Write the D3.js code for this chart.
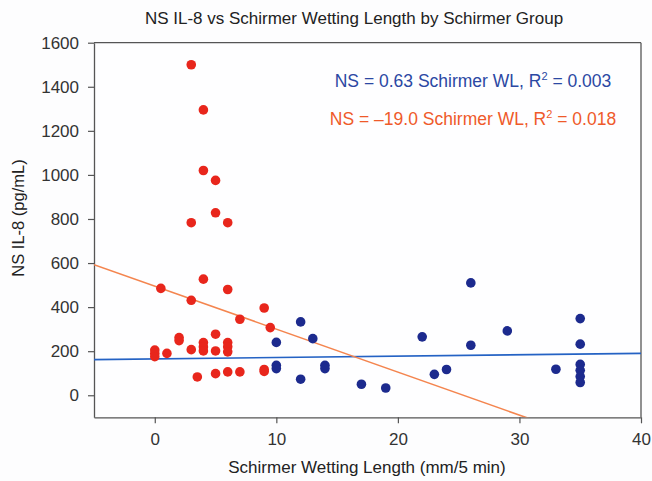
<!DOCTYPE html>
<html>
<head>
<meta charset="utf-8">
<script src="https://cdn.jsdelivr.net/npm/d3@7"></script>
<style>
  html, body { margin: 0; padding: 0; background: #fdfdfe; }
  svg { display: block; }
  text { font-family: "Liberation Sans", Arial, Helvetica, sans-serif; }
</style>
</head>
<body>
<svg id="chart" width="652" height="481"></svg>
<script>
// ---- data ----
const redX = [3, 4, 4, 5, 5, 3, 6, 4, 0.5, 6, 3, 9, 7, 9.5, 5, 2, 2, 0, 0, 0, 1, 3, 4, 4, 4, 5, 6, 6, 6, 3.5, 5, 6, 7, 9, 9];
const redY = [1500, 1295, 1020, 975, 828, 783, 783, 527, 485, 480, 431, 396, 345, 307, 277, 262, 248, 205, 190, 175, 190, 207, 239, 219, 201, 201, 239, 220, 197, 83, 98, 106, 106, 117, 108];
const blueX = [12, 10, 10, 10, 12, 13, 14, 14, 17, 19, 22, 23, 24, 26, 26, 29, 33, 35, 35, 35, 35, 35, 35];
const blueY = [333, 240, 136, 121, 73, 257, 136, 121, 50, 33, 265, 95, 117, 510, 227, 292, 118, 348, 232, 140, 113, 85, 58];
const fitGroups = ["blue", "red"];
const fitSlopes = [0.63, -19.5];
const fitIntercepts = [165, 495];
const fitLabels = ["NS = 0.63 Schirmer WL, R", "NS = \u201319.0 Schirmer WL, R"];
const fitR2 = ["0.003", "0.018"];
const xTicks = [0, 10, 20, 30, 40];
const yTicks = [0, 200, 400, 600, 800, 1000, 1200, 1400, 1600];
const xDomain = [-5, 40];
const yDomain = [-100, 1600];

// ---- layout ----
const svg = d3.select("#chart");
const L = 94, R = 641, T = 42.7, B = 417.3;
const x = d3.scaleLinear().domain(xDomain).range([L, R]);
const y = d3.scaleLinear().domain(yDomain).range([B, T]);
const colors = { red: "#e8261c", blue: "#1c2a8e" };
const lineColors = { red: "#f4854f", blue: "#2462c4" };
const textColors = { red: "#ef5a2a", blue: "#2b48a3" };
const axisColor = "#555";

svg.append("rect").attr("x", L).attr("y", T).attr("width", R - L).attr("height", B - T)
  .attr("fill", "#fefeff");

svg.append("clipPath").attr("id", "clip").append("rect")
  .attr("x", L).attr("y", T).attr("width", R - L).attr("height", B - T);

// frame (top and right)
svg.append("line").attr("x1", L).attr("x2", R).attr("y1", T).attr("y2", T).attr("stroke", axisColor).attr("stroke-width", 1.3);
svg.append("line").attr("x1", R).attr("x2", R).attr("y1", T).attr("y2", B).attr("stroke", axisColor).attr("stroke-width", 1.3);

// axes
const fmt = d3.format("d");
const xAxis = svg.append("g").attr("transform", `translate(0,${B})`)
  .call(d3.axisBottom(x).tickValues(xTicks).tickFormat(fmt).tickSize(6).tickPadding(10).tickSizeOuter(0));
const yAxis = svg.append("g").attr("transform", `translate(${L},0)`)
  .call(d3.axisLeft(y).tickValues(yTicks).tickFormat(fmt).tickSize(6).tickPadding(9).tickSizeOuter(0));
[xAxis, yAxis].forEach(g => {
  g.select(".domain").attr("stroke", axisColor).attr("stroke-width", 1.3);
  g.selectAll(".tick line").attr("stroke", axisColor).attr("stroke-width", 1.2);
  g.selectAll(".tick text").attr("fill", "#333").style("font-size", "17px")
    .style("font-family", "'Liberation Sans', Arial, sans-serif");
});

// fit lines
const fits = fitGroups.map((g, i) => ({ g, m: fitSlopes[i], b: fitIntercepts[i] }));
svg.append("g").attr("clip-path", "url(#clip)").selectAll("line").data(fits).join("line")
  .attr("x1", d => x(xDomain[0])).attr("y1", d => y(d.b + d.m * xDomain[0]))
  .attr("x2", d => x(xDomain[1])).attr("y2", d => y(d.b + d.m * xDomain[1]))
  .attr("stroke", d => lineColors[d.g]).attr("stroke-width", 1.6);

// points
const redPts = redX.map((v, i) => ({ x: v, y: redY[i] }));
const bluePts = blueX.map((v, i) => ({ x: v, y: blueY[i] }));
svg.append("g").selectAll("circle").data(redPts).join("circle")
  .attr("cx", d => x(d.x)).attr("cy", d => y(d.y)).attr("r", 4.8).attr("fill", colors.red);
svg.append("g").selectAll("circle").data(bluePts).join("circle")
  .attr("cx", d => x(d.x)).attr("cy", d => y(d.y)).attr("r", 4.8).attr("fill", colors.blue);

// annotations
const annY = [87, 125];
fitGroups.forEach((g, i) => {
  const t = svg.append("text").attr("x", 473).attr("y", annY[i]).attr("text-anchor", "middle")
    .attr("fill", textColors[g]).style("font-size", "17.5px");
  t.append("tspan").text(fitLabels[i]);
  t.append("tspan").attr("dy", -7).style("font-size", "11px").text("2");
  t.append("tspan").attr("dy", 7).text(" = " + fitR2[i]);
});

// title & axis labels
svg.append("text").attr("x", 354).attr("y", 24).attr("text-anchor", "middle")
  .attr("fill", "#222").style("font-size", "17px")
  .text("NS IL-8 vs Schirmer Wetting Length by Schirmer Group");
svg.append("text").attr("x", 367).attr("y", 473).attr("text-anchor", "middle")
  .attr("fill", "#222").style("font-size", "17px")
  .text("Schirmer Wetting Length (mm/5 min)");
svg.append("text").attr("transform", "translate(24,218) rotate(-90)").attr("text-anchor", "middle")
  .attr("fill", "#222").style("font-size", "16.5px")
  .text("NS IL-8 (pg/mL)");
</script>
</body>
</html>
